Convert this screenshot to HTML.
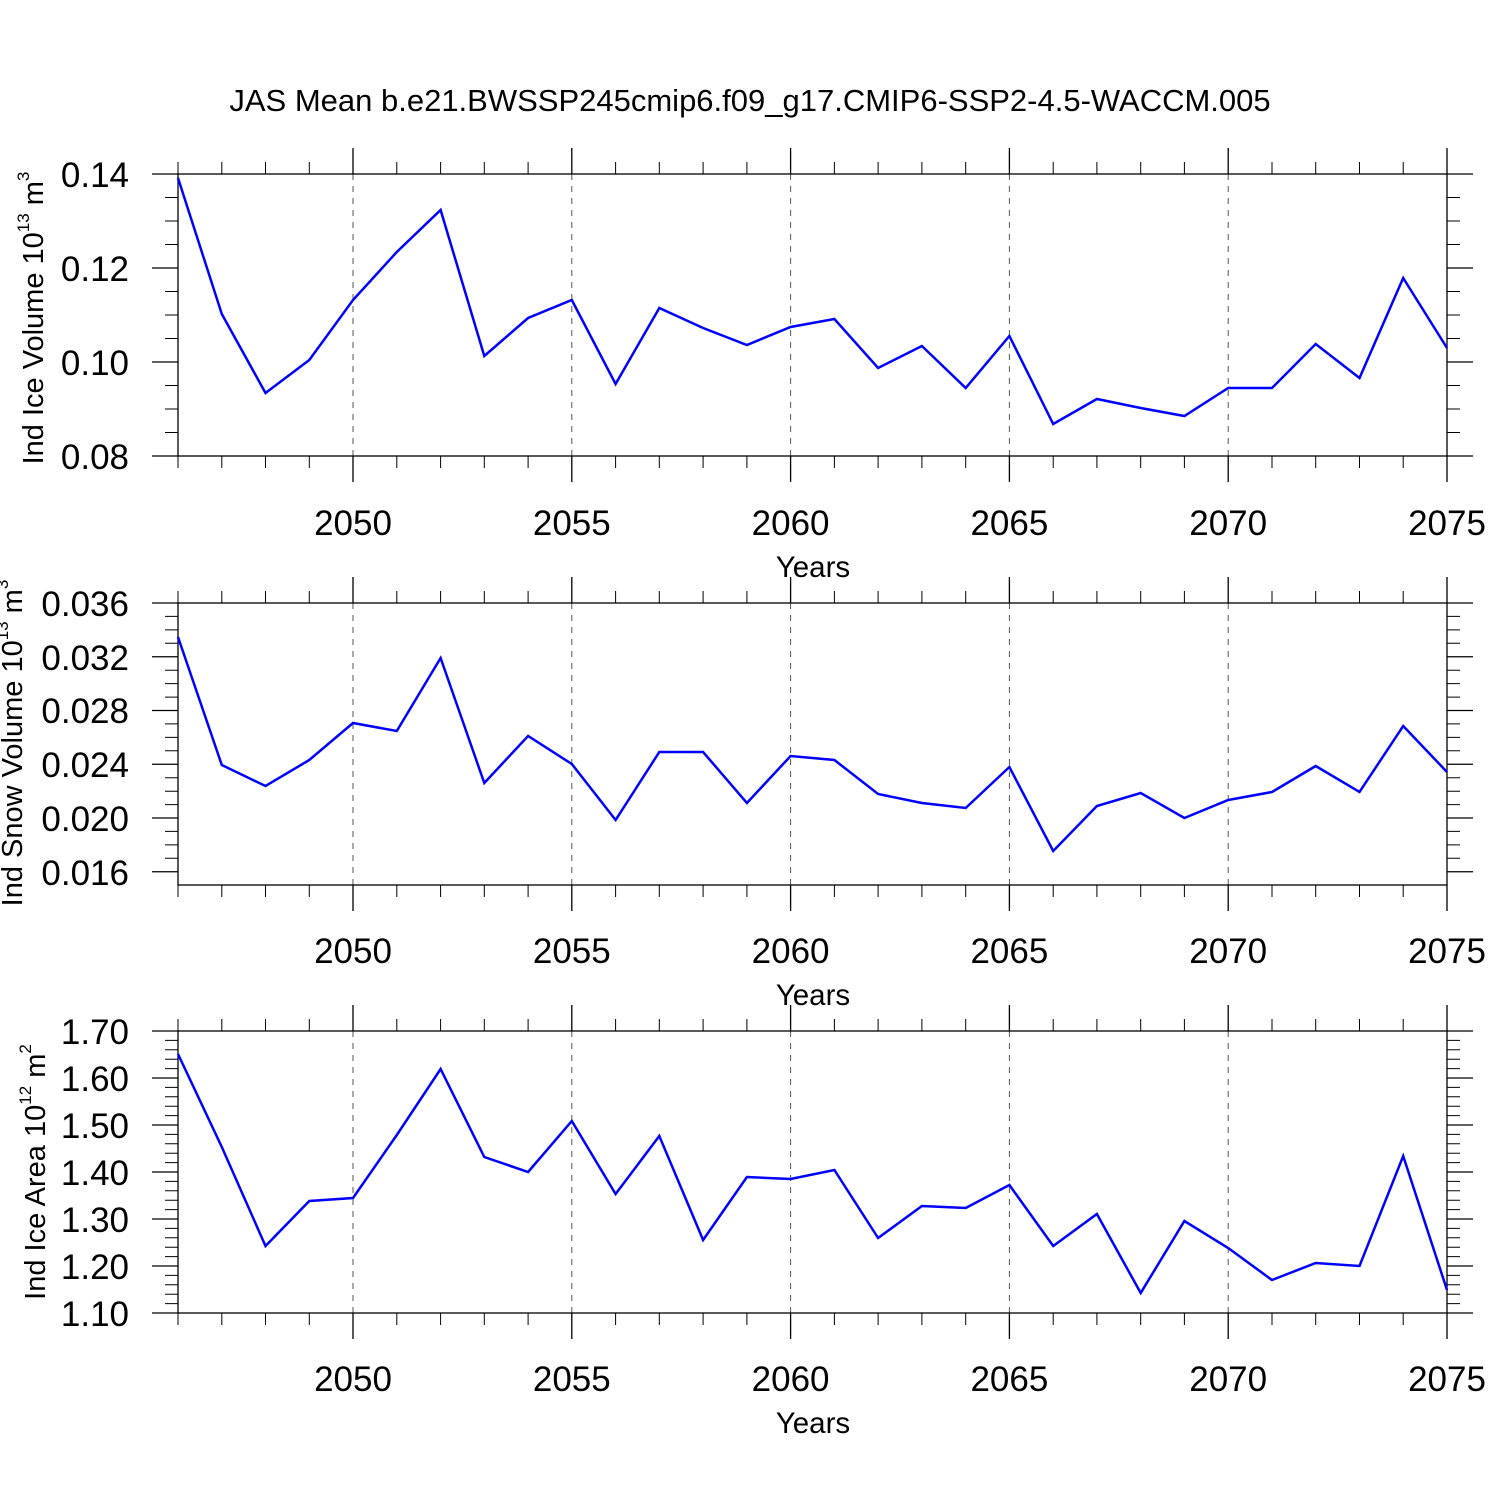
<!DOCTYPE html>
<html><head><meta charset="utf-8"><style>body{margin:0;background:#fff}svg{display:block}</style></head>
<body>
<svg width="1500" height="1500" viewBox="0 0 1500 1500" xmlns="http://www.w3.org/2000/svg" font-family="Liberation Sans, sans-serif">
<defs>
<g id="xt">
<path stroke="#000" stroke-width="1" fill="none" d="M178 -12V0M178 282v12M221.8 -12V0M221.8 282v12M265.5 -12V0M265.5 282v12M309.3 -12V0M309.3 282v12M396.8 -12V0M396.8 282v12M440.6 -12V0M440.6 282v12M484.3 -12V0M484.3 282v12M528.1 -12V0M528.1 282v12M615.6 -12V0M615.6 282v12M659.3 -12V0M659.3 282v12M703.1 -12V0M703.1 282v12M746.9 -12V0M746.9 282v12M834.4 -12V0M834.4 282v12M878.1 -12V0M878.1 282v12M921.9 -12V0M921.9 282v12M965.7 -12V0M965.7 282v12M1053.2 -12V0M1053.2 282v12M1096.9 -12V0M1096.9 282v12M1140.7 -12V0M1140.7 282v12M1184.4 -12V0M1184.4 282v12M1272 -12V0M1272 282v12M1315.7 -12V0M1315.7 282v12M1359.5 -12V0M1359.5 282v12M1403.2 -12V0M1403.2 282v12"/>
<path stroke="#000" stroke-width="1.3" fill="none" d="M353 -26V0M353 282v26M571.8 -26V0M571.8 282v26M790.6 -26V0M790.6 282v26M1009.4 -26V0M1009.4 282v26M1228.2 -26V0M1228.2 282v26M1447 -26V0M1447 282v26"/>
<path stroke="#555" stroke-width="1" stroke-dasharray="6,6" fill="none" d="M353 0V282M571.8 0V282M790.6 0V282M1009.4 0V282M1228.2 0V282"/>
<rect x="178" y="0" width="1269" height="282" fill="none" stroke="#000" stroke-width="1.3"/>
</g>
</defs>

<text x="750" y="111" font-size="31" text-anchor="middle">JAS Mean b.e21.BWSSP245cmip6.f09_g17.CMIP6-SSP2-4.5-WACCM.005</text>

<!-- Panel 1 -->
<g transform="translate(0,174)">
<use href="#xt"/>
<path stroke="#000" stroke-width="1.3" fill="none" d="M152 0H178M152 94H178M152 188H178M152 282H178M1447 0H1473M1447 94H1473M1447 188H1473M1447 282H1473"/>
<path stroke="#000" stroke-width="1" fill="none" d="M165 23.5H178M165 47H178M165 70.5H178M165 117.5H178M165 141H178M165 164.5H178M165 211.5H178M165 235H178M165 258.5H178M1447 23.5H1460M1447 47H1460M1447 70.5H1460M1447 117.5H1460M1447 141H1460M1447 164.5H1460M1447 211.5H1460M1447 235H1460M1447 258.5H1460"/>
<g font-size="35" text-anchor="end">
<text x="129" y="13">0.14</text><text x="129" y="107">0.12</text><text x="129" y="201">0.10</text><text x="129" y="295">0.08</text>
</g>
</g>
<g font-size="35" text-anchor="middle">
<text x="353" y="535">2050</text><text x="571.8" y="535">2055</text><text x="790.6" y="535">2060</text><text x="1009.4" y="535">2065</text><text x="1228.2" y="535">2070</text><text x="1447" y="535">2075</text>
</g>
<text x="813" y="577" font-size="29.5" text-anchor="middle">Years</text>
<text transform="translate(43,318) rotate(-90)" font-size="29" text-anchor="middle">Ind Ice Volume 10<tspan font-size="17" dy="-14">13</tspan><tspan dy="14"> m</tspan><tspan font-size="17" dy="-14">3</tspan></text>
<polyline fill="none" stroke="#0000ff" stroke-width="2.5" points="178,178 221.8,314 265.5,393 309.3,360 353,300 396.8,252 440.6,210 484.3,356 528.1,318 571.8,300 615.6,384 659.3,308 703.1,328 746.9,345 790.6,327 834.4,319 878.1,368 921.9,346 965.7,388 1009.4,336 1053.2,424 1096.9,399 1140.7,408 1184.4,416 1228.2,388 1272,388 1315.7,344 1359.5,378 1403.2,278 1447,348"/>

<!-- Panel 2 -->
<g transform="translate(0,603)">
<use href="#xt"/>
<path stroke="#000" stroke-width="1.3" fill="none" d="M152 0H178M152 53.75H178M152 107.5H178M152 161.25H178M152 215H178M152 268.75H178M1447 0H1473M1447 53.75H1473M1447 107.5H1473M1447 161.25H1473M1447 215H1473M1447 268.75H1473"/>
<path stroke="#000" stroke-width="1" fill="none" d="M165 13.4H178M165 26.9H178M165 40.3H178M165 67.2H178M165 80.6H178M165 94.1H178M165 120.9H178M165 134.4H178M165 147.8H178M165 174.7H178M165 188.2H178M165 201.6H178M165 228.4H178M165 241.9H178M165 255.3H178M1447 13.4H1460M1447 26.9H1460M1447 40.3H1460M1447 67.2H1460M1447 80.6H1460M1447 94.1H1460M1447 120.9H1460M1447 134.4H1460M1447 147.8H1460M1447 174.7H1460M1447 188.2H1460M1447 201.6H1460M1447 228.4H1460M1447 241.9H1460M1447 255.3H1460"/>
<g font-size="35" text-anchor="end">
<text x="129" y="13">0.036</text><text x="129" y="67">0.032</text><text x="129" y="120">0.028</text><text x="129" y="174">0.024</text><text x="129" y="228">0.020</text><text x="129" y="282">0.016</text>
</g>
</g>
<g font-size="35" text-anchor="middle">
<text x="353" y="963">2050</text><text x="571.8" y="963">2055</text><text x="790.6" y="963">2060</text><text x="1009.4" y="963">2065</text><text x="1228.2" y="963">2070</text><text x="1447" y="963">2075</text>
</g>
<text x="813" y="1005" font-size="29.5" text-anchor="middle">Years</text>
<text transform="translate(22,743) rotate(-90)" font-size="29" text-anchor="middle">Ind Snow Volume 10<tspan font-size="17" dy="-14">13</tspan><tspan dy="14"> m</tspan><tspan font-size="17" dy="-14">3</tspan></text>
<polyline fill="none" stroke="#0000ff" stroke-width="2.5" points="178,637 221.8,765 265.5,786 309.3,760 353,723 396.8,731 440.6,658 484.3,783 528.1,736 571.8,764 615.6,820 659.3,752 703.1,752 746.9,803 790.6,756 834.4,760 878.1,794 921.9,803 965.7,808 1009.4,767 1053.2,851 1096.9,806 1140.7,793 1184.4,818 1228.2,800 1272,792 1315.7,766 1359.5,792 1403.2,726 1447,772"/>

<!-- Panel 3 -->
<g transform="translate(0,1031)">
<use href="#xt"/>
<path stroke="#000" stroke-width="1.3" fill="none" d="M152 0H178M152 47H178M152 94H178M152 141H178M152 188H178M152 235H178M152 282H178M1447 0H1473M1447 47H1473M1447 94H1473M1447 141H1473M1447 188H1473M1447 235H1473M1447 282H1473"/>
<path stroke="#000" stroke-width="1" fill="none" d="M165 9.4H178M165 18.8H178M165 28.2H178M165 37.6H178M165 56.4H178M165 65.8H178M165 75.2H178M165 84.6H178M165 103.4H178M165 112.8H178M165 122.2H178M165 131.6H178M165 150.4H178M165 159.8H178M165 169.2H178M165 178.6H178M165 197.4H178M165 206.8H178M165 216.2H178M165 225.6H178M165 244.4H178M165 253.8H178M165 263.2H178M165 272.6H178M1447 9.4H1460M1447 18.8H1460M1447 28.2H1460M1447 37.6H1460M1447 56.4H1460M1447 65.8H1460M1447 75.2H1460M1447 84.6H1460M1447 103.4H1460M1447 112.8H1460M1447 122.2H1460M1447 131.6H1460M1447 150.4H1460M1447 159.8H1460M1447 169.2H1460M1447 178.6H1460M1447 197.4H1460M1447 206.8H1460M1447 216.2H1460M1447 225.6H1460M1447 244.4H1460M1447 253.8H1460M1447 263.2H1460M1447 272.6H1460"/>
<g font-size="35" text-anchor="end">
<text x="129" y="13">1.70</text><text x="129" y="60">1.60</text><text x="129" y="107">1.50</text><text x="129" y="154">1.40</text><text x="129" y="201">1.30</text><text x="129" y="248">1.20</text><text x="129" y="295">1.10</text>
</g>
</g>
<g font-size="35" text-anchor="middle">
<text x="353" y="1391">2050</text><text x="571.8" y="1391">2055</text><text x="790.6" y="1391">2060</text><text x="1009.4" y="1391">2065</text><text x="1228.2" y="1391">2070</text><text x="1447" y="1391">2075</text>
</g>
<text x="813" y="1433" font-size="29.5" text-anchor="middle">Years</text>
<text transform="translate(45,1172) rotate(-90)" font-size="29" text-anchor="middle">Ind Ice Area 10<tspan font-size="17" dy="-14">12</tspan><tspan dy="14"> m</tspan><tspan font-size="17" dy="-14">2</tspan></text>
<polyline fill="none" stroke="#0000ff" stroke-width="2.5" points="178,1054 221.8,1147 265.5,1246 309.3,1201 353,1198 396.8,1135 440.6,1069 484.3,1157 528.1,1172 571.8,1121 615.6,1194 659.3,1136 703.1,1240 746.9,1177 790.6,1179 834.4,1170 878.1,1238 921.9,1206 965.7,1208 1009.4,1185 1053.2,1246 1096.9,1214 1140.7,1293 1184.4,1221 1228.2,1248 1272,1280 1315.7,1263 1359.5,1266 1403.2,1156 1447,1290"/>
</svg>
</body></html>
